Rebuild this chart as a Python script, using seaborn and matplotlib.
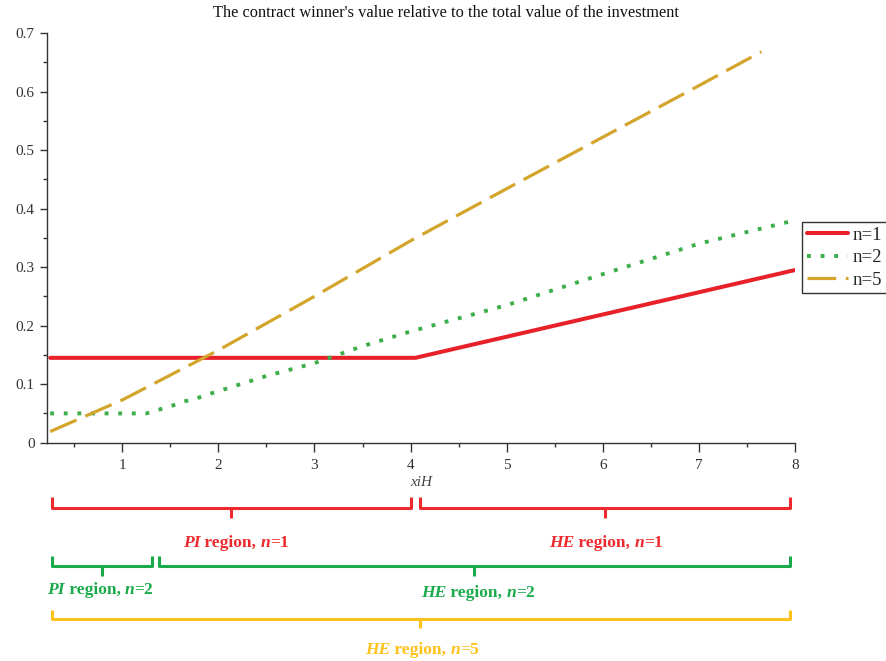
import matplotlib
matplotlib.use("Agg")
import matplotlib.pyplot as plt
import matplotlib.transforms as mtransforms
from matplotlib.offsetbox import TextArea, HPacker, AnnotationBbox
from matplotlib.ticker import MultipleLocator
import seaborn as sns
import numpy as np

# ---------------- data ----------------
n1_x = [0.25, 4.05, 8.0]
n1_y = [0.145, 0.145, 0.295]

n2_x = [0.25, 0.75, 1.25, 1.37, 1.5, 1.63, 1.76, 1.9, 2.0, 2.5, 3.0, 3.5, 4.0, 5.0, 6.0, 7.0, 8.0]
n2_y = [0.05, 0.05, 0.05, 0.056, 0.062, 0.07, 0.075, 0.083, 0.088, 0.114, 0.136, 0.165, 0.19, 0.235, 0.288, 0.34, 0.38]

n5_x = [0.25, 1.0, 2.0, 3.0, 4.0, 5.0, 6.0, 7.0, 7.65]
n5_y = [0.019, 0.073, 0.158, 0.25, 0.345, 0.434, 0.522, 0.61, 0.668]

series_labels = ["n=1", "n=2", "n=5"]
title_text = "The contract winner's value relative to the total value of the investment"
x_label = "xiH"

# brace spans (data x): start, end, centre tick
brace_red = [(0.27, 4.00, 2.13), (4.10, 7.95, 6.02)]
brace_green = [(0.27, 1.31, 0.79), (1.38, 7.95, 4.66)]
brace_yellow = [(0.27, 7.95, 4.10)]

# region labels: (x centre, italic part, number)
labels_red = [(2.18, "PI", "1"), (6.03, "HE", "1")]
labels_green = [(0.77, "PI", "2"), (4.70, "HE", "2")]
labels_yellow = [(4.12, "HE", "5")]

RED = "#E8202A"
GREEN = "#3DAE4A"
GOLD = "#D4A52C"
B_RED = "#EE2A2E"
B_GREEN = "#1BAA4B"
B_YELLOW = "#FFC21A"
SERIF = ["Liberation Serif", "DejaVu Serif"]

sns.set_style("ticks")
plt.rcParams["font.family"] = SERIF

fig = plt.figure(figsize=(8.86, 6.61), dpi=100)
ax = fig.add_axes([47 / 886, (661 - 442.7) / 661, (795 - 47) / 886, 409.7 / 661])

sns.lineplot(x=n1_x, y=n1_y, ax=ax, color=RED, linewidth=2.9, label=series_labels[0],
             sort=False, estimator=None)
sns.lineplot(x=n2_x, y=n2_y, ax=ax, color=GREEN, linewidth=2.8, linestyle=(0, (1, 2.5)),
             dash_capstyle="butt", label=series_labels[1], sort=False, estimator=None)
sns.lineplot(x=n5_x, y=n5_y, ax=ax, color=GOLD, linewidth=2.3, linestyle=(0, (9, 3)),
             dash_capstyle="butt", label=series_labels[2], sort=False, estimator=None)

ax.set_xlim(0.217, 8.0)
ax.set_ylim(0, 0.7)
ax.xaxis.set_minor_locator(MultipleLocator(0.5))
ax.yaxis.set_minor_locator(MultipleLocator(0.05))
ax.set_yticks([0, 0.1, 0.2, 0.3, 0.4, 0.5, 0.6, 0.7])
ax.set_yticklabels(["0", "0.1", "0.2", "0.3", "0.4", "0.5", "0.6", "0.7"])
ax.set_xticks([1, 2, 3, 4, 5, 6, 7, 8])
ax.set_xticklabels(["1", "2", "3", "4", "5", "6", "7", "8"])
for s in ["top", "right"]:
    ax.spines[s].set_visible(False)
for s in ["left", "bottom"]:
    ax.spines[s].set_color("#333333")
    ax.spines[s].set_linewidth(1.0)
ax.tick_params(axis="x", which="major", direction="out", length=6.5, width=1, pad=5,
               labelsize=11, colors="#333333")
ax.tick_params(axis="x", which="minor", direction="out", length=3, width=1, colors="#333333")
ax.tick_params(axis="y", which="major", direction="out", length=5, width=1, pad=4,
               labelsize=11, colors="#333333")
ax.tick_params(axis="y", which="minor", direction="out", length=3, width=1, colors="#333333")
ax.set_ylabel("")
ax.set_xlabel(x_label, fontstyle="italic", fontsize=11, color="#444444", labelpad=3)

leg = ax.legend(loc="upper left", bbox_to_anchor=(802 / 886, 1 - 222 / 661),
                bbox_transform=fig.transFigure, borderaxespad=0, frameon=True,
                fancybox=False, edgecolor="black", fontsize=13.5, handlelength=2.2,
                handletextpad=0.25, borderpad=0.25, labelspacing=0.28)
leg.get_frame().set_linewidth(1.0)

fig.text(446 / 886, 1 - 13 / 661, title_text, ha="center", va="center", fontsize=11.8,
         color="#111111")

# ---------------- braces ----------------
trans = mtransforms.blended_transform_factory(ax.transData, ax.transAxes)


def yf(px):
    return (442.7 - px) / 409.7


def brace(x0, x1, xc, y_line, y_end, y_tick, color):
    ax.plot([x0, x0, x1, x1], [yf(y_end), yf(y_line), yf(y_line), yf(y_end)],
            transform=trans, color=color, lw=2.2, clip_on=False, solid_joinstyle="round",
            solid_capstyle="butt")
    ax.plot([xc, xc], [yf(y_line), yf(y_tick)], transform=trans, color=color, lw=2.2,
            clip_on=False, solid_capstyle="butt")


for (a, b, c) in brace_red:
    brace(a, b, c, 508, 497, 518, B_RED)
for (a, b, c) in brace_green:
    brace(a, b, c, 566, 556, 576, B_GREEN)
for (a, b, c) in brace_yellow:
    brace(a, b, c, 619, 610, 628, B_YELLOW)


def rich_label(xc, ypx, ital, num, color):
    fs = 12.6
    base = dict(color=color, fontsize=fs, fontfamily=SERIF)
    parts = [
        TextArea(ital, textprops=dict(base, fontweight="bold", fontstyle="italic")),
        TextArea(" region, ", textprops=dict(base, fontweight="bold")),
        TextArea("n", textprops=dict(base, fontweight="bold", fontstyle="italic")),
        TextArea("=" + num, textprops=dict(base, fontweight="bold")),
    ]
    pack = HPacker(children=parts, align="baseline", pad=0, sep=0)
    ab = AnnotationBbox(pack, (xc, yf(ypx)), xycoords=trans, frameon=False,
                        box_alignment=(0.5, 0.5), annotation_clip=False, pad=0)
    ax.add_artist(ab)


for (xc, it, nm) in labels_red:
    rich_label(xc, 543, it, nm, B_RED)
rich_label(labels_green[0][0], 590, labels_green[0][1], labels_green[0][2], B_GREEN)
rich_label(labels_green[1][0], 593, labels_green[1][1], labels_green[1][2], B_GREEN)
for (xc, it, nm) in labels_yellow:
    rich_label(xc, 650, it, nm, B_YELLOW)

fig.savefig("out.png", dpi=100)
